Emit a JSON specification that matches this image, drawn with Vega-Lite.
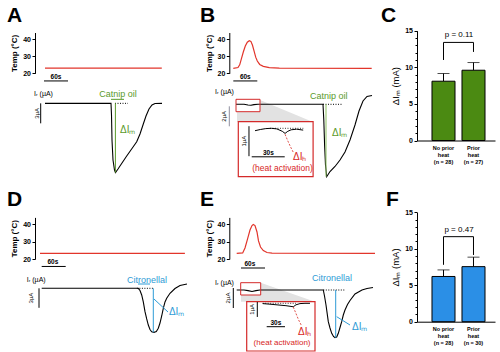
{
"$schema":"https://vega.github.io/schema/vega-lite/v6.json",
"width":500,"height":352,"autosize":"none","padding":0,"background":"white",
"config":{"view":{"stroke":null},"font":"Liberation Sans","text":{"font":"Liberation Sans","color":"black"},"axis":{"labelFont":"Liberation Sans","titleFont":"Liberation Sans","grid":false,"domainColor":"black","tickColor":"black","labelColor":"black","titleColor":"black"}},
"resolve":{"scale":{"x":"independent","y":"independent"}},
"layer":[
{"encoding":{"x":{"field":"t","type":"quantitative","scale":{"domain":[-25,300],"range":[35,165],"nice":false,"zero":false},"axis":null},"y":{"field":"v","type":"quantitative","scale":{"domain":[20,44],"range":[73.3,32.5],"nice":false,"zero":false},"axis":{"orient":"left","offset":-35,"values":[20,30,40],"title":"Temp (°C)","titleFontSize":8,"titleFontWeight":"bold","titlePadding":4,"labelFontSize":7,"labelFontWeight":"bold","labelPadding":1.5,"tickSize":3}}},
"layer":[
{"data":{"values":[{"t":0,"v":23},{"t":292,"v":23}]},"mark":{"type":"line","color":"#e2352b","strokeWidth":1.2}},
{"data":{"values":[{"t":-2.5,"t2":57.5,"v":15.5,"v2":15.5}]},"mark":{"type":"rule","color":"black","strokeWidth":1},"encoding":{"x2":{"field":"t2"},"y2":{"field":"v2"}}},
{"data":{"values":[{"t":27.5,"v":17.8,"label":"60s"}]},"mark":{"type":"text","fontSize":6.5,"fontWeight":"bold","align":"center","baseline":"middle"},"encoding":{"text":{"field":"label"}}},
{"data":{"values":[{"t":-95,"v":50.2,"label":"A"}]},"mark":{"type":"text","fontSize":21,"fontWeight":"bold","align":"left","baseline":"alphabetic"},"encoding":{"text":{"field":"label"}}}
]},
{"encoding":{"x":{"field":"t","type":"quantitative","scale":{"domain":[-25,300],"range":[35,165],"nice":false,"zero":false},"axis":null},"y":{"field":"v","type":"quantitative","scale":{"domain":[-13,2],"range":[190,90],"nice":false,"zero":false},"axis":null}},
"layer":[
{"data":{"values":[{"t":0,"v":0},{"t":165,"v":0},{"t":166.25,"v":-1.75},{"t":167.5,"v":-5.5},{"t":170,"v":-8.5},{"t":173.75,"v":-10},{"t":176.25,"v":-10.38},{"t":182.5,"v":-9.85},{"t":192.5,"v":-8.95},{"t":204.25,"v":-7.9},{"t":217.5,"v":-6.78},{"t":229.25,"v":-5.76},{"t":237.5,"v":-4.6},{"t":245.75,"v":-3.1},{"t":252.5,"v":-1.9},{"t":260,"v":-0.85},{"t":267.5,"v":-0.25},{"t":275,"v":-0.03},{"t":292.5,"v":0}]},"mark":{"type":"line","color":"black","strokeWidth":1.1}},
{"data":{"values":[{"t":175,"t2":207.5,"v":0,"v2":0}]},"mark":{"type":"rule","color":"black","strokeWidth":1,"strokeDash":[1,1.5]},"encoding":{"x2":{"field":"t2"},"y2":{"field":"v2"}}},
{"data":{"values":[{"t":-10.75,"t2":-10.75,"v":0,"v2":-3}]},"mark":{"type":"rule","color":"black","strokeWidth":1},"encoding":{"x2":{"field":"t2"},"y2":{"field":"v2"}}},
{"data":{"values":[{"t":165,"t2":197.5,"v":0.6,"v2":0.6},{"t":176,"t2":176,"v":0,"v2":-10.38}]},"mark":{"type":"rule","color":"#5a9a2b","strokeWidth":1},"encoding":{"x2":{"field":"t2"},"y2":{"field":"v2"}}},
{"data":{"values":[{"t":182.5,"v":1.4,"label":"Catnip oil"}]},"mark":{"type":"text","color":"#5a9a2b","fontSize":9,"align":"center","baseline":"middle"},"encoding":{"text":{"field":"label"}}},
{"data":{"values":[{"t":187.5,"v":-4,"label":"ΔIₘ"}]},"mark":{"type":"text","color":"#5a9a2b","fontSize":10,"align":"left","baseline":"middle"},"encoding":{"text":{"field":"label"}}},
{"data":{"values":[{"t":-27.5,"v":1.4,"label":"Iᵣ (µA)"}]},"mark":{"type":"text","fontSize":7,"align":"left","baseline":"middle"},"encoding":{"text":{"field":"label"}}},
{"data":{"values":[{"t":-20,"v":-1.5,"label":"3µA"}]},"mark":{"type":"text","fontSize":6,"angle":270,"align":"center","baseline":"middle"},"encoding":{"text":{"field":"label"}}}
]},
{"encoding":{"x":{"field":"t","type":"quantitative","scale":{"domain":[-50,350],"range":[213.3,373.3],"nice":false,"zero":false},"axis":null},"y":{"field":"v","type":"quantitative","scale":{"domain":[20,44],"range":[73.3,32.5],"nice":false,"zero":false},"axis":{"orient":"left","offset":-229.3,"values":[20,30,40],"title":"Temp (°C)","titleFontSize":8,"titleFontWeight":"bold","titlePadding":4,"labelFontSize":7,"labelFontWeight":"bold","labelPadding":1.5,"tickSize":3}}},
"layer":[
{"data":{"values":[{"t":0,"v":22.9},{"t":11.75,"v":23.4},{"t":16,"v":25},{"t":20,"v":28.3},{"t":25,"v":32.5},{"t":30,"v":36},{"t":35,"v":38.3},{"t":40,"v":39.2},{"t":44,"v":38.8},{"t":48,"v":36.5},{"t":52,"v":33},{"t":56,"v":29.5},{"t":60,"v":27.2},{"t":66,"v":25.2},{"t":75,"v":24.1},{"t":90,"v":23.3},{"t":115,"v":23},{"t":346,"v":22.9}]},"mark":{"type":"line","color":"#e2352b","strokeWidth":1.2}},
{"data":{"values":[{"t":0,"t2":60,"v":15.5,"v2":15.5}]},"mark":{"type":"rule","color":"black","strokeWidth":1},"encoding":{"x2":{"field":"t2"},"y2":{"field":"v2"}}},
{"data":{"values":[{"t":30,"v":17.8,"label":"60s"}]},"mark":{"type":"text","fontSize":6.5,"fontWeight":"bold","align":"center","baseline":"middle"},"encoding":{"text":{"field":"label"}}},
{"data":{"values":[{"t":-83.25,"v":50.2,"label":"B"},{"t":369.25,"v":50.2,"label":"C"}]},"mark":{"type":"text","fontSize":21,"fontWeight":"bold","align":"left","baseline":"alphabetic"},"encoding":{"text":{"field":"label"}}}
]},
{"encoding":{"x":{"field":"t","type":"quantitative","scale":{"domain":[-50,350],"range":[213.3,373.3],"nice":false,"zero":false},"axis":null},"y":{"field":"v","type":"quantitative","scale":{"domain":[-9,2],"range":[194.3,84.3],"nice":false,"zero":false},"axis":null}},
"layer":[
{"data":{"values":[{"t":9.25,"v":-0.77,"v2":-1.77},{"t":66.5,"v":-0.77,"v2":-1.77},{"t":66.75,"v":0.43,"v2":-1.77},{"t":199.25,"v":-1.77,"v2":-1.77}]},"mark":{"type":"area","color":"#e2e2e2"},"encoding":{"y2":{"field":"v2"}}},
{"data":{"values":[{"t":6.75,"v":0},{"t":26.75,"v":0},{"t":36.75,"v":-0.07},{"t":44.25,"v":-0.1},{"t":51.75,"v":-0.03},{"t":61.75,"v":0},{"t":224.25,"v":0},{"t":226.25,"v":-1.57},{"t":228.25,"v":-4.07},{"t":230.5,"v":-6.07},{"t":233.5,"v":-7.24},{"t":241.75,"v":-6.72},{"t":254.25,"v":-6.22},{"t":266.75,"v":-5.57},{"t":279.25,"v":-4.77},{"t":291.75,"v":-3.57},{"t":304.25,"v":-2.07},{"t":314.25,"v":-0.67},{"t":324.25,"v":0.33},{"t":334.25,"v":0.78},{"t":346.75,"v":0.88}]},"mark":{"type":"line","color":"black","strokeWidth":1.1}},
{"data":{"values":[{"t":6.75,"t2":66.75,"v":0.5,"v2":-0.74}]},"mark":{"type":"rect","fill":null,"fillOpacity":0,"stroke":"#d42a2a","strokeWidth":1},"encoding":{"x2":{"field":"t2"},"y2":{"field":"v2"}}},
{"data":{"values":[{"t":224.25,"t2":271.75,"v":0,"v2":0}]},"mark":{"type":"rule","color":"black","strokeWidth":1,"strokeDash":[1,1.5]},"encoding":{"x2":{"field":"t2"},"y2":{"field":"v2"}}},
{"data":{"values":[{"t":-10,"t2":-10,"v":-0.2,"v2":-2.2}]},"mark":{"type":"rule","color":"#8f8f9f","strokeWidth":1},"encoding":{"x2":{"field":"t2"},"y2":{"field":"v2"}}},
{"data":{"values":[{"t":231.75,"t2":231.75,"v":0,"v2":-7.24}]},"mark":{"type":"rule","color":"#8cc063","strokeWidth":1},"encoding":{"x2":{"field":"t2"},"y2":{"field":"v2"}}},
{"data":{"values":[{"t":238.75,"v":0.83,"label":"Catnip oil"}]},"mark":{"type":"text","color":"#5a9a2b","fontSize":9,"align":"center","baseline":"middle"},"encoding":{"text":{"field":"label"}}},
{"data":{"values":[{"t":246.75,"v":-2.87,"label":"ΔIₘ"}]},"mark":{"type":"text","color":"#5a9a2b","fontSize":10,"align":"left","baseline":"middle"},"encoding":{"text":{"field":"label"}}},
{"data":{"values":[{"t":-45.75,"v":1.26,"label":"Iᵣ (µA)"}]},"mark":{"type":"text","fontSize":7,"align":"left","baseline":"middle"},"encoding":{"text":{"field":"label"}}},
{"data":{"values":[{"t":-23.25,"v":-1.2,"label":"2µA"}]},"mark":{"type":"text","fontSize":6,"angle":270,"align":"center","baseline":"middle"},"encoding":{"text":{"field":"label"}}}
]},
{"encoding":{"x":{"field":"t","type":"quantitative","scale":{"domain":[0,68],"range":[238.3,313.1],"nice":false,"zero":false},"axis":null},"y":{"field":"v","type":"quantitative","scale":{"domain":[-1.6,0.25],"range":[176.3,120.8],"nice":false,"zero":false},"axis":null}},
"layer":[
{"data":{"values":[{"t":0,"t2":68,"v":0.22,"v2":-1.61}]},"mark":{"type":"rect","fill":"white","stroke":"#d42a2a","strokeWidth":1.2},"encoding":{"x2":{"field":"t2"},"y2":{"field":"v2"}}},
{"data":{"values":[{"t":15.2,"v":-0.08},{"t":20,"v":-0.04},{"t":25,"v":-0.01},{"t":30,"v":0},{"t":35,"v":-0.02},{"t":40,"v":-0.1},{"t":42.5,"v":-0.17},{"t":45,"v":-0.1},{"t":48,"v":-0.05},{"t":53,"v":-0.03},{"t":59,"v":-0.06}]},"mark":{"type":"line","color":"black","strokeWidth":1}},
{"data":{"values":[{"t":28.8,"t2":59.1,"v":0,"v2":0}]},"mark":{"type":"rule","color":"black","strokeWidth":0.8,"strokeDash":[1,1.5]},"encoding":{"x2":{"field":"t2"},"y2":{"field":"v2"}}},
{"data":{"values":[{"t":9.7,"t2":9.7,"v":0.07,"v2":-0.93},{"t":12.2,"t2":42.2,"v":-0.95,"v2":-0.95}]},"mark":{"type":"rule","color":"black","strokeWidth":1},"encoding":{"x2":{"field":"t2"},"y2":{"field":"v2"}}},
{"data":{"values":[{"t":42.5,"v":-0.2},{"t":45,"v":-0.42},{"t":47.5,"v":-0.62},{"t":50,"v":-0.8}]},"mark":{"type":"line","color":"#d7261e","strokeWidth":0.8,"strokeDash":[2,1.5]}},
{"data":{"values":[{"t":27.3,"v":-0.82,"label":"30s"}]},"mark":{"type":"text","fontSize":6.5,"fontWeight":"bold","align":"center","baseline":"middle"},"encoding":{"text":{"field":"label"}}},
{"data":{"values":[{"t":5.2,"v":-0.43,"label":"1µA"}]},"mark":{"type":"text","fontSize":6,"angle":270,"align":"center","baseline":"middle"},"encoding":{"text":{"field":"label"}}},
{"data":{"values":[{"t":49.7,"v":-0.95,"label":"ΔIₕ"}]},"mark":{"type":"text","color":"#d7261e","fontSize":10,"align":"left","baseline":"middle"},"encoding":{"text":{"field":"label"}}},
{"data":{"values":[{"t":40.2,"v":-1.33,"label":"(heat activation)"}]},"mark":{"type":"text","color":"#d7261e","fontSize":8.5,"align":"center","baseline":"middle"},"encoding":{"text":{"field":"label"}}}
]},
{"data":{"values":[{"group":"No prior heat","mean":8.1,"upper":9.15,"label":"No prior\nheat\n(n = 28)"},{"group":"Prior heat","mean":9.6,"upper":10.65,"label":"Prior\nheat\n(n = 27)"}]},
"encoding":{"x":{"field":"group","type":"nominal","sort":null,"scale":{"range":[417,495],"paddingInner":0.233,"paddingOuter":0.4167,"align":0.6},"axis":{"orient":"bottom","offset":-211.5,"labels":false,"ticks":false,"title":null,"domainWidth":1}},"y":{"field":"mean","type":"quantitative","scale":{"domain":[0,15],"range":[140.5,30.7],"nice":false},"axis":null}},
"layer":[
{"mark":{"type":"rule","color":"black","strokeWidth":1},"encoding":{"y2":{"field":"upper"}}},
{"mark":{"type":"bar","fill":"#4b8a12","stroke":"black","strokeWidth":1},"encoding":{"y2":{"datum":0}}},
{"mark":{"type":"tick","color":"black","thickness":1,"size":12},"encoding":{"y":{"field":"upper","type":"quantitative","scale":{"domain":[0,15],"range":[140.5,30.7],"nice":false},"axis":null}}},
{"mark":{"type":"text","fontSize":5.5,"fontWeight":"bold","lineBreak":"\n","lineHeight":7,"baseline":"top","align":"center"},"encoding":{"y":{"datum":-0.8},"text":{"field":"label"}}},
{"data":{"values":[{"group":"No prior heat","v":11.0,"v2":13.4},{"group":"Prior heat","v":12.1,"v2":13.4}]},"mark":{"type":"rule","color":"black","strokeWidth":1},"encoding":{"y":{"field":"v","type":"quantitative","scale":{"domain":[0,15],"range":[140.5,30.7],"nice":false},"axis":null},"y2":{"field":"v2"}}},
{"data":{"values":[{"group":"No prior heat","group2":"Prior heat","v":13.4}]},"mark":{"type":"rule","color":"black","strokeWidth":1},"encoding":{"x2":{"field":"group2"},"y":{"field":"v","type":"quantitative","scale":{"domain":[0,15],"range":[140.5,30.7],"nice":false},"axis":null}}},
{"data":{"values":[{"group":"No prior heat","v":14.4,"label":"p = 0.11"}]},"mark":{"type":"text","fontSize":8,"dx":15.5,"align":"center","baseline":"middle"},"encoding":{"y":{"field":"v","type":"quantitative","scale":{"domain":[0,15],"range":[140.5,30.7],"nice":false},"axis":null},"text":{"field":"label"}}}
]},
{"data":{"values":[{"v":0},{"v":15}]},"mark":{"type":"point","opacity":0},"encoding":{"y":{"field":"v","type":"quantitative","scale":{"domain":[0,15],"range":[140.5,30.7],"nice":false},"axis":{"orient":"left","offset":-417,"values":[1,2,3,4,6,7,8,9,11,12,13,14],"labels":false,"domain":false,"tickSize":2,"title":null}}}},
{"data":{"values":[{"v":0},{"v":15}]},"mark":{"type":"point","opacity":0},"encoding":{"y":{"field":"v","type":"quantitative","scale":{"domain":[0,15],"range":[140.5,30.7],"nice":false},"axis":{"orient":"left","offset":-417,"values":[0,5,10,15],"title":"ΔIₘ (mA)","titleFontSize":9.5,"titleFontWeight":"normal","titlePadding":4,"labelFontSize":7,"labelFontWeight":"bold","labelPadding":1.5,"tickSize":3}}}},
{"encoding":{"x":{"field":"t","type":"quantitative","scale":{"domain":[-25,375],"range":[31.7,191.7],"nice":false,"zero":false},"axis":null},"y":{"field":"v","type":"quantitative","scale":{"domain":[20,44],"range":[259,217.4],"nice":false,"zero":false},"axis":{"orient":"left","offset":-35,"values":[20,30,40],"title":"Temp (°C)","titleFontSize":8,"titleFontWeight":"bold","titlePadding":4,"labelFontSize":7,"labelFontWeight":"bold","labelPadding":1.5,"tickSize":3}}},
"layer":[
{"data":{"values":[{"t":-4.25,"v":23.3},{"t":358,"v":23.3}]},"mark":{"type":"line","color":"#e2352b","strokeWidth":1.3}},
{"data":{"values":[{"t":0,"t2":60,"v":15.7,"v2":15.7}]},"mark":{"type":"rule","color":"black","strokeWidth":1},"encoding":{"x2":{"field":"t2"},"y2":{"field":"v2"}}},
{"data":{"values":[{"t":28,"v":18.3,"label":"60s"}]},"mark":{"type":"text","fontSize":6.5,"fontWeight":"bold","align":"center","baseline":"middle"},"encoding":{"text":{"field":"label"}}},
{"data":{"values":[{"t":-86.75,"v":50.5,"label":"D"}]},"mark":{"type":"text","fontSize":21,"fontWeight":"bold","align":"left","baseline":"alphabetic"},"encoding":{"text":{"field":"label"}}}
]},
{"encoding":{"x":{"field":"t","type":"quantitative","scale":{"domain":[-25,375],"range":[31.7,191.7],"nice":false,"zero":false},"axis":null},"y":{"field":"v","type":"quantitative","scale":{"domain":[-10,3],"range":[353.3,268.8],"nice":false,"zero":false},"axis":null}},
"layer":[
{"data":{"values":[{"t":0,"v":0},{"t":241.5,"v":0},{"t":245.75,"v":-0.34},{"t":250,"v":-1.03},{"t":254,"v":-2.1},{"t":258.25,"v":-3.6},{"t":262.5,"v":-4.72},{"t":266.5,"v":-5.65},{"t":270.75,"v":-6.34},{"t":275,"v":-6.68},{"t":280.75,"v":-6.77},{"t":286.5,"v":-6.65},{"t":291.5,"v":-6.15},{"t":295.75,"v":-5.34},{"t":300,"v":-4.26},{"t":304,"v":-3.08},{"t":308.25,"v":-2.1},{"t":312.5,"v":-1.54},{"t":320.75,"v":-0.77},{"t":333.25,"v":-0.03},{"t":345.75,"v":0.43},{"t":363.25,"v":0.66}]},"mark":{"type":"line","color":"black","strokeWidth":1.1}},
{"data":{"values":[{"t":238,"t2":280.75,"v":0,"v2":0}]},"mark":{"type":"rule","color":"black","strokeWidth":1,"strokeDash":[1,1.5]},"encoding":{"x2":{"field":"t2"},"y2":{"field":"v2"}}},
{"data":{"values":[{"t":-6.75,"t2":-6.75,"v":0,"v2":-3}]},"mark":{"type":"rule","color":"black","strokeWidth":1},"encoding":{"x2":{"field":"t2"},"y2":{"field":"v2"}}},
{"data":{"values":[{"t":240.75,"t2":270.75,"v":0.66,"v2":0.66},{"t":279,"t2":279,"v":0,"v2":-6.77},{"t":280.75,"t2":315.75,"v":-1.65,"v2":-3.65}]},"mark":{"type":"rule","color":"#2e9bd6","strokeWidth":1},"encoding":{"x2":{"field":"t2"},"y2":{"field":"v2"}}},
{"data":{"values":[{"t":263.25,"v":1.28,"label":"Citronellal"}]},"mark":{"type":"text","color":"#2e9bd6","fontSize":9,"align":"center","baseline":"middle"},"encoding":{"text":{"field":"label"}}},
{"data":{"values":[{"t":318,"v":-3.65,"label":"ΔIₘ"}]},"mark":{"type":"text","color":"#2e9bd6","fontSize":10,"align":"left","baseline":"middle"},"encoding":{"text":{"field":"label"}}},
{"data":{"values":[{"t":-37.5,"v":1.28,"label":"Iᵣ (µA)"}]},"mark":{"type":"text","fontSize":7,"align":"left","baseline":"middle"},"encoding":{"text":{"field":"label"}}},
{"data":{"values":[{"t":-26.75,"v":-1.5,"label":"3µA"}]},"mark":{"type":"text","fontSize":6,"angle":270,"align":"center","baseline":"middle"},"encoding":{"text":{"field":"label"}}}
]},
{"encoding":{"x":{"field":"t","type":"quantitative","scale":{"domain":[-50,350],"range":[216.7,376.7],"nice":false,"zero":false},"axis":null},"y":{"field":"v","type":"quantitative","scale":{"domain":[20,44],"range":[259,217.4],"nice":false,"zero":false},"axis":{"orient":"left","offset":-229.3,"values":[20,30,40],"title":"Temp (°C)","titleFontSize":8,"titleFontWeight":"bold","titlePadding":4,"labelFontSize":7,"labelFontWeight":"bold","labelPadding":1.5,"tickSize":3}}},
"layer":[
{"data":{"values":[{"t":0,"v":23.3},{"t":15,"v":23.5},{"t":20.75,"v":26.35},{"t":27,"v":31.5},{"t":33.25,"v":36.7},{"t":38.25,"v":39.3},{"t":41.5,"v":39.9},{"t":45.75,"v":39.3},{"t":50.75,"v":35.6},{"t":54.5,"v":30.4},{"t":59.5,"v":26.9},{"t":66.5,"v":24.9},{"t":75.75,"v":23.75},{"t":88.25,"v":23.35},{"t":345.75,"v":23.3}]},"mark":{"type":"line","color":"#e2352b","strokeWidth":1.2}},
{"data":{"values":[{"t":10.75,"t2":70.75,"v":14.8,"v2":14.8}]},"mark":{"type":"rule","color":"black","strokeWidth":1},"encoding":{"x2":{"field":"t2"},"y2":{"field":"v2"}}},
{"data":{"values":[{"t":33,"v":17.4,"label":"60s"}]},"mark":{"type":"text","fontSize":6.5,"fontWeight":"bold","align":"center","baseline":"middle"},"encoding":{"text":{"field":"label"}}},
{"data":{"values":[{"t":-91.75,"v":50.5,"label":"E"},{"t":373.25,"v":50.5,"label":"F"}]},"mark":{"type":"text","fontSize":21,"fontWeight":"bold","align":"left","baseline":"alphabetic"},"encoding":{"text":{"field":"label"}}}
]},
{"encoding":{"x":{"field":"t","type":"quantitative","scale":{"domain":[-50,350],"range":[216.7,376.7],"nice":false,"zero":false},"axis":null},"y":{"field":"v","type":"quantitative","scale":{"domain":[-7,2],"range":[360,270],"nice":false,"zero":false},"axis":null}},
"layer":[
{"data":{"values":[{"t":10.75,"v":-0.5,"v2":-1.17},{"t":59.75,"v":-0.5,"v2":-1.17},{"t":60,"v":0.73,"v2":-1.17},{"t":195.75,"v":-1.17,"v2":-1.17}]},"mark":{"type":"area","color":"#e2e2e2"},"encoding":{"y2":{"field":"v2"}}},
{"data":{"values":[{"t":0,"v":0},{"t":18.25,"v":0},{"t":28.25,"v":-0.06},{"t":38.25,"v":-0.15},{"t":48.25,"v":-0.06},{"t":58.25,"v":0},{"t":216.5,"v":0},{"t":219.5,"v":-0.6},{"t":223.25,"v":-1.5},{"t":229,"v":-3.17},{"t":233.25,"v":-3.8},{"t":237.5,"v":-4.33},{"t":242,"v":-4.65},{"t":245.75,"v":-4.77},{"t":250,"v":-4.7},{"t":254,"v":-4.33},{"t":258.25,"v":-3.75},{"t":262.5,"v":-3.17},{"t":266.5,"v":-2.5},{"t":270.75,"v":-2},{"t":277,"v":-1.45},{"t":283.25,"v":-1.05},{"t":295.75,"v":-0.4},{"t":313.25,"v":0},{"t":325.75,"v":0.15},{"t":340.75,"v":0.25}]},"mark":{"type":"line","color":"black","strokeWidth":1.1}},
{"data":{"values":[{"t":10,"t2":60,"v":0.73,"v2":-0.5}]},"mark":{"type":"rect","fill":null,"fillOpacity":0,"stroke":"#d42a2a","strokeWidth":1},"encoding":{"x2":{"field":"t2"},"y2":{"field":"v2"}}},
{"data":{"values":[{"t":216.5,"t2":272.5,"v":0,"v2":0}]},"mark":{"type":"rule","color":"black","strokeWidth":1,"strokeDash":[1,1.5]},"encoding":{"x2":{"field":"t2"},"y2":{"field":"v2"}}},
{"data":{"values":[{"t":-8.5,"t2":-8.5,"v":0.2,"v2":-1.8}]},"mark":{"type":"rule","color":"black","strokeWidth":1},"encoding":{"x2":{"field":"t2"},"y2":{"field":"v2"}}},
{"data":{"values":[{"t":247.5,"t2":247.5,"v":0,"v2":-4.77},{"t":250,"t2":283.25,"v":-2.67,"v2":-3.5}]},"mark":{"type":"rule","color":"#2e9bd6","strokeWidth":1},"encoding":{"x2":{"field":"t2"},"y2":{"field":"v2"}}},
{"data":{"values":[{"t":238.25,"v":1.2,"label":"Citronellal"}]},"mark":{"type":"text","color":"#2e9bd6","fontSize":9,"align":"center","baseline":"middle"},"encoding":{"text":{"field":"label"}}},
{"data":{"values":[{"t":288.25,"v":-3.7,"label":"ΔIₘ"}]},"mark":{"type":"text","color":"#2e9bd6","fontSize":10,"align":"left","baseline":"middle"},"encoding":{"text":{"field":"label"}}},
{"data":{"values":[{"t":-54.25,"v":0.67,"label":"Iᵣ (µA)"}]},"mark":{"type":"text","fontSize":7,"align":"left","baseline":"middle"},"encoding":{"text":{"field":"label"}}},
{"data":{"values":[{"t":-21.75,"v":-0.8,"label":"2µA"}]},"mark":{"type":"text","fontSize":6,"angle":270,"align":"center","baseline":"middle"},"encoding":{"text":{"field":"label"}}}
]},
{"encoding":{"x":{"field":"t","type":"quantitative","scale":{"domain":[0,112],"range":[246.7,315],"nice":false,"zero":false},"axis":null},"y":{"field":"v","type":"quantitative","scale":{"domain":[-3.2,0.12],"range":[351.3,301.5],"nice":false,"zero":false},"axis":null}},
"layer":[
{"data":{"values":[{"t":0,"t2":112,"v":0.107,"v2":-3.18}]},"mark":{"type":"rect","fill":"white","stroke":"#d42a2a","strokeWidth":1.2},"encoding":{"x2":{"field":"t2"},"y2":{"field":"v2"}}},
{"data":{"values":[{"t":26.2,"v":-0.02},{"t":38.2,"v":-0.06},{"t":51.3,"v":-0.11},{"t":64.4,"v":-0.16},{"t":76.4,"v":-0.23},{"t":80.8,"v":-0.1},{"t":87.4,"v":-0.02},{"t":95.6,"v":0},{"t":103.8,"v":0}]},"mark":{"type":"line","color":"black","strokeWidth":1}},
{"data":{"values":[{"t":26.2,"t2":80.8,"v":0,"v2":0}]},"mark":{"type":"rule","color":"black","strokeWidth":0.8,"strokeDash":[1,1.5]},"encoding":{"x2":{"field":"t2"},"y2":{"field":"v2"}}},
{"data":{"values":[{"t":17.4,"t2":17.4,"v":0.09,"v2":-0.91},{"t":32.8,"t2":62.8,"v":-1.56,"v2":-1.56}]},"mark":{"type":"rule","color":"black","strokeWidth":1},"encoding":{"x2":{"field":"t2"},"y2":{"field":"v2"}}},
{"data":{"values":[{"t":76.4,"v":-0.25},{"t":80,"v":-0.6},{"t":85,"v":-1.1},{"t":90,"v":-1.5}]},"mark":{"type":"line","color":"#d7261e","strokeWidth":0.8,"strokeDash":[2,1.5]}},
{"data":{"values":[{"t":47.8,"v":-1.29,"label":"30s"}]},"mark":{"type":"text","fontSize":6.5,"fontWeight":"bold","align":"center","baseline":"middle"},"encoding":{"text":{"field":"label"}}},
{"data":{"values":[{"t":8.2,"v":-0.4,"label":"1µA"}]},"mark":{"type":"text","fontSize":6,"angle":270,"align":"center","baseline":"middle"},"encoding":{"text":{"field":"label"}}},
{"data":{"values":[{"t":84.1,"v":-1.89,"label":"ΔIₕ"}]},"mark":{"type":"text","color":"#d7261e","fontSize":10,"align":"left","baseline":"middle"},"encoding":{"text":{"field":"label"}}},
{"data":{"values":[{"t":58,"v":-2.67,"label":"(heat activation)"}]},"mark":{"type":"text","color":"#d7261e","fontSize":8,"align":"center","baseline":"middle"},"encoding":{"text":{"field":"label"}}}
]},
{"data":{"values":[{"group":"No prior heat","mean":6.2,"upper":7.1,"label":"No prior\nheat\n(n = 28)"},{"group":"Prior heat","mean":7.55,"upper":8.85,"label":"Prior\nheat\n(n = 30)"}]},
"encoding":{"x":{"field":"group","type":"nominal","sort":null,"scale":{"range":[417,495],"paddingInner":0.233,"paddingOuter":0.4167,"align":0.6},"axis":{"orient":"bottom","offset":-30.3,"labels":false,"ticks":false,"title":null,"domainWidth":1}},"y":{"field":"mean","type":"quantitative","scale":{"domain":[0,15],"range":[321.7,212.3],"nice":false},"axis":null}},
"layer":[
{"mark":{"type":"rule","color":"black","strokeWidth":1},"encoding":{"y2":{"field":"upper"}}},
{"mark":{"type":"bar","fill":"#2b8fe6","stroke":"black","strokeWidth":1},"encoding":{"y2":{"datum":0}}},
{"mark":{"type":"tick","color":"black","thickness":1,"size":12},"encoding":{"y":{"field":"upper","type":"quantitative","scale":{"domain":[0,15],"range":[321.7,212.3],"nice":false},"axis":null}}},
{"mark":{"type":"text","fontSize":5.5,"fontWeight":"bold","lineBreak":"\n","lineHeight":7,"baseline":"top","align":"center"},"encoding":{"y":{"datum":-0.7},"text":{"field":"label"}}},
{"data":{"values":[{"group":"No prior heat","v":7.8,"v2":11.66},{"group":"Prior heat","v":9.15,"v2":11.66}]},"mark":{"type":"rule","color":"black","strokeWidth":1},"encoding":{"y":{"field":"v","type":"quantitative","scale":{"domain":[0,15],"range":[321.7,212.3],"nice":false},"axis":null},"y2":{"field":"v2"}}},
{"data":{"values":[{"group":"No prior heat","group2":"Prior heat","v":11.66}]},"mark":{"type":"rule","color":"black","strokeWidth":1},"encoding":{"x2":{"field":"group2"},"y":{"field":"v","type":"quantitative","scale":{"domain":[0,15],"range":[321.7,212.3],"nice":false},"axis":null}}},
{"data":{"values":[{"group":"No prior heat","v":12.6,"label":"p = 0.47"}]},"mark":{"type":"text","fontSize":8,"dx":15.5,"align":"center","baseline":"middle"},"encoding":{"y":{"field":"v","type":"quantitative","scale":{"domain":[0,15],"range":[321.7,212.3],"nice":false},"axis":null},"text":{"field":"label"}}}
]},
{"data":{"values":[{"v":0},{"v":15}]},"mark":{"type":"point","opacity":0},"encoding":{"y":{"field":"v","type":"quantitative","scale":{"domain":[0,15],"range":[321.7,212.3],"nice":false},"axis":{"orient":"left","offset":-417,"values":[1,2,3,4,6,7,8,9,11,12,13,14],"labels":false,"domain":false,"tickSize":2,"title":null}}}},
{"data":{"values":[{"v":0},{"v":15}]},"mark":{"type":"point","opacity":0},"encoding":{"y":{"field":"v","type":"quantitative","scale":{"domain":[0,15],"range":[321.7,212.3],"nice":false},"axis":{"orient":"left","offset":-417,"values":[0,5,10,15],"title":"ΔIₘ (mA)","titleFontSize":9.5,"titleFontWeight":"normal","titlePadding":4,"labelFontSize":7,"labelFontWeight":"bold","labelPadding":1.5,"tickSize":3}}}}
]
}
